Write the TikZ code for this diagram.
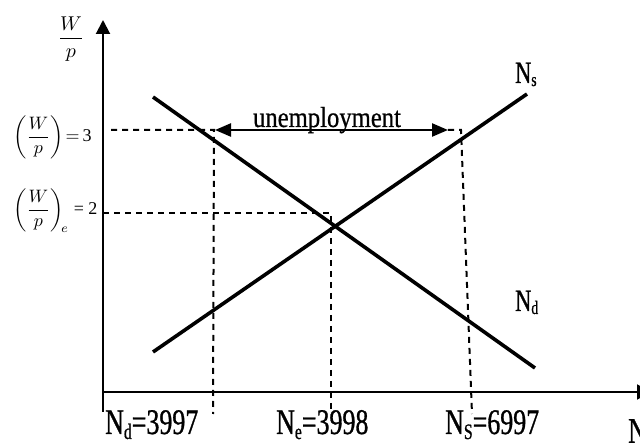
\documentclass[tikz,border=0pt]{standalone}
\usepackage{amsmath}
\usepackage{fontspec}
\setmainfont{Liberation Serif}
\newfontfamily\cnd[FakeStretch=0.72,FakeBold=0.8]{Liberation Serif}
\newfontfamily\cndb[FakeStretch=0.85,FakeBold=0.6]{Liberation Serif}
\newcommand\bigsub[1]{\raisebox{-5pt}{\fontsize{22}{22}\selectfont #1}}
\newcommand\smallsub[1]{\raisebox{-3pt}{\fontsize{19}{19}\selectfont #1}}
\usetikzlibrary{arrows.meta}
\begin{document}
\begin{tikzpicture}[x=1pt,y=-1pt,
  axisline/.style={line width=2pt},
  curveline/.style={line width=3.6pt},
  guide/.style={line width=2pt, dash pattern=on 6pt off 5pt},
  lbl/.style={inner sep=0pt, font=\cnd\fontsize{36}{40}\selectfont},
  curvelbl/.style={inner sep=0pt, font=\cnd\fontsize{31}{34}\selectfont},
  mathlbl/.style={inner sep=0pt},
]
\useasboundingbox (0,0) rectangle (640,443);
% axes
\coordinate (ybot) at (103,412);
\coordinate (ytop) at (103,20);
\coordinate (xbeg) at (102,392);
\coordinate (xend) at (651,392);
\draw[axisline,-{Triangle[width=14pt,length=14pt]}] (ybot) -- (ytop);
\draw[axisline,-{Triangle[width=15pt,length=14pt]}] (xbeg) -- (xend);
% demand and supply
\coordinate (d1) at (153,97);
\coordinate (d2) at (535,368);
\coordinate (s1) at (153,352);
\coordinate (s2) at (527,94);
\draw[curveline] (d1) -- (d2);
\draw[curveline] (s1) -- (s2);
% guides
\coordinate (h1a) at (111,130);
\coordinate (h1b) at (214,130);
\coordinate (v1b) at (213,414);
\draw[guide] (h1a) -- (h1b) -- (v1b);
\coordinate (h3a) at (448,130);
\coordinate (h3b) at (461,130);
\coordinate (v3b) at (472,414);
\draw[guide] (h3a) -- (h3b) -- (v3b);
\coordinate (h2a) at (103,213);
\coordinate (h2b) at (331,213);
\coordinate (v2b) at (331,414);
\draw[guide] (h2a) -- (h2b) -- (v2b);
% unemployment
\coordinate (ua) at (215,130);
\coordinate (ub) at (448,130);
\draw[line width=2.4pt,{Triangle[width=13pt,length=16pt]}-{Triangle[width=13pt,length=16pt]}] (ua) -- (ub);
\node[anchor=base, inner sep=0pt, font=\cndb\fontsize{29}{31}\selectfont] (unemp) at (327,127) {unemployment};
% curve labels
\node[curvelbl, anchor=base west] (Nslab) at (515,83) {N\smallsub{s}};
\node[curvelbl, anchor=base west] (Ndlab) at (515,311) {N\smallsub{d}};
% x labels
\node[lbl, anchor=base west] (ndv) at (105,434) {N\bigsub{d}=3997};
\node[lbl, anchor=base west] (nev) at (276,434) {N\bigsub{e}=3998};
\node[lbl, anchor=base west] (nsv) at (445,434) {N\bigsub{S}=6997};
\node[lbl, anchor=north west] (xlab) at (628,419) {N};
% y labels
\node[mathlbl] (ylab) at (71,39) {\scalebox{2}{$\dfrac{W}{p}$}};
\node[mathlbl, anchor=base west] (w3) at (13,141.5) {\scalebox{1.8}{$\left(\dfrac{W}{p}\right)\!=$\,3}};
\node[mathlbl, anchor=base west] (w2) at (13,214.5) {\scalebox{1.8}{$\left(\dfrac{W}{p}\right)_{\!e}$\;= 2}};
\end{tikzpicture}
\end{document}
